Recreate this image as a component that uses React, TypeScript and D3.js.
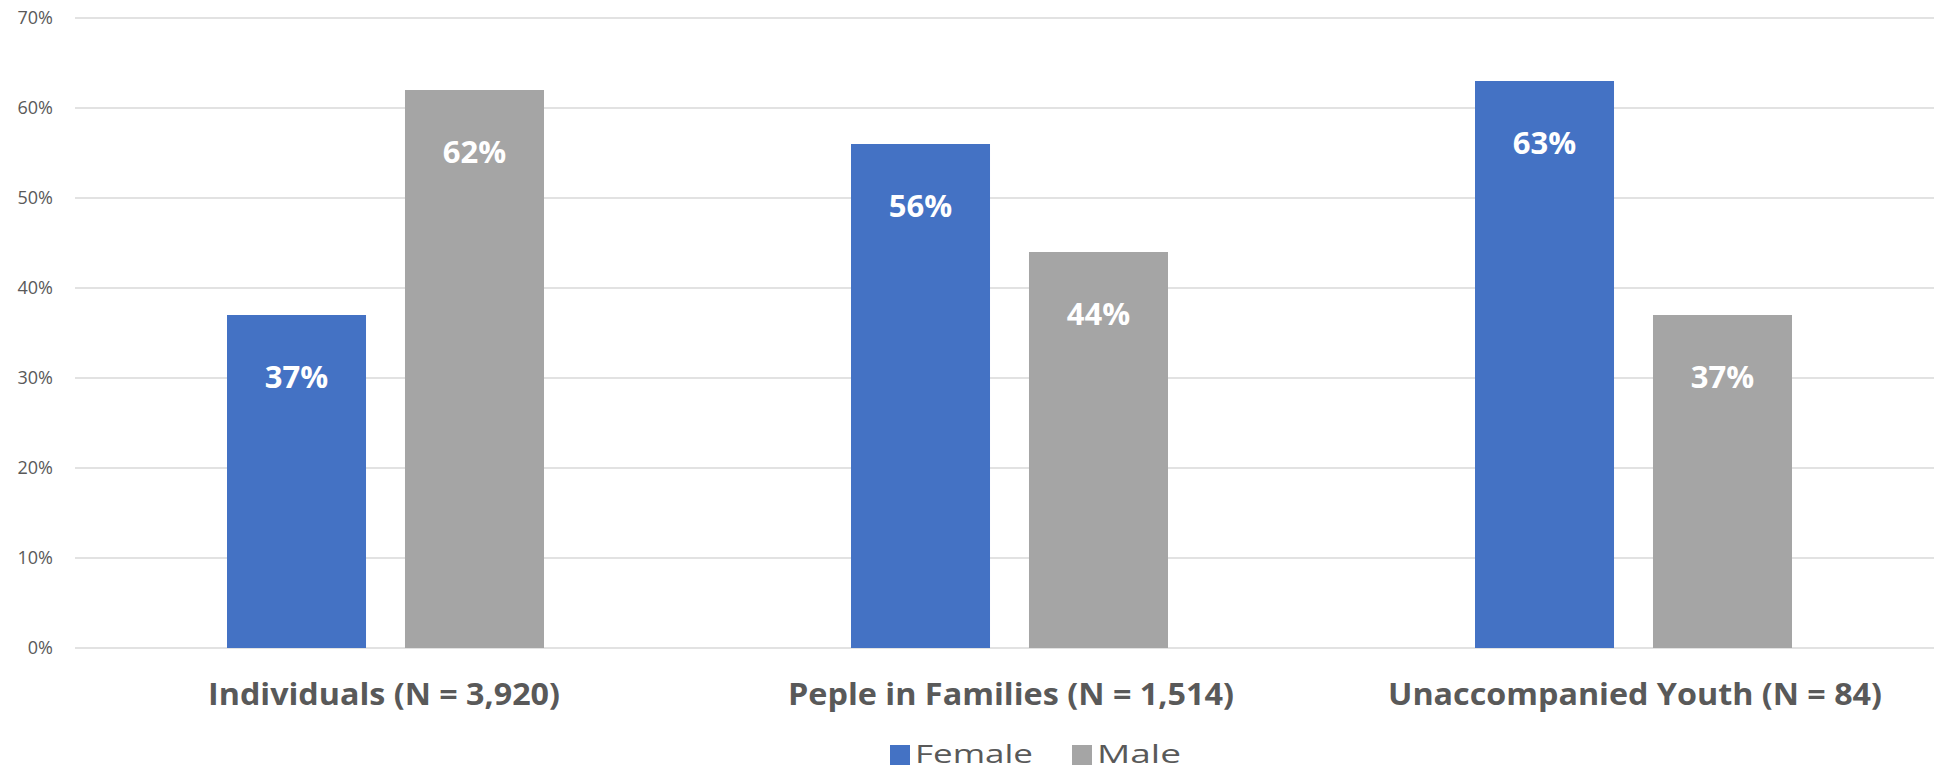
import React from "react";
import * as d3 from "d3";

const categories = [
  "Individuals (N = 3,920)",
  "Peple in Families (N = 1,514)",
  "Unaccompanied Youth (N = 84)",
];
const seriesNames = ["Female", "Male"];
const femaleValues = [0.37, 0.56, 0.63];
const maleValues = [0.62, 0.44, 0.37];
const yTicks = [0, 0.1, 0.2, 0.3, 0.4, 0.5, 0.6, 0.7];

const colors: Record<string, string> = { Female: "#4472C4", Male: "#A5A5A5" };

const W = 1934;
const H = 771;
const plotLeft = 75;
const step = 624;
const plotTop = 18;
const plotBottom = 648;

export default function App() {
  const x = d3
    .scaleBand<string>()
    .domain(categories)
    .range([plotLeft, plotLeft + step * categories.length])
    .paddingInner(0)
    .paddingOuter(0);
  const xInner = d3
    .scaleBand<string>()
    .domain(seriesNames)
    .range([152, 469])
    .paddingInner(0.219)
    .paddingOuter(0);
  const y = d3.scaleLinear().domain([0, 0.7]).range([plotBottom, plotTop]);
  const fmt = d3.format(".0%");

  const seriesValues: Record<string, number[]> = {
    Female: femaleValues,
    Male: maleValues,
  };
  const labelWidths = [352, 446, 494];

  return (
    <svg
      width={W}
      height={H}
      style={{ position: "absolute", left: 0, top: 0, background: "#fff" }}
      fontFamily="'Open Sans', sans-serif"
    >
      <rect x={0} y={0} width={W} height={H} fill="#fff" />
      {yTicks.map((t) => (
        <g key={t}>
          <line
            x1={plotLeft}
            x2={W}
            y1={y(t)}
            y2={y(t)}
            stroke="#D9D9D9"
            strokeWidth={1.5}
          />
          <text
            x={53}
            y={y(t)}
            dy="0.35em"
            textAnchor="end"
            fontSize={18}
            fill="#595959"
          >
            {fmt(t)}
          </text>
        </g>
      ))}
      {categories.map((c, i) => (
        <g key={c} transform={`translate(${x(c)},0)`}>
          {seriesNames.map((s) => {
            const v = seriesValues[s][i];
            const bx = xInner(s)!;
            const bw = xInner.bandwidth();
            return (
              <g key={s}>
                <rect
                  x={bx}
                  y={y(v)}
                  width={bw}
                  height={y(0) - y(v)}
                  fill={colors[s]}
                />
                <text
                  x={bx + bw / 2}
                  y={y(v) + 73}
                  textAnchor="middle"
                  fontSize={31}
                  fontWeight={700}
                  fill="#fff"
                >
                  {fmt(v)}
                </text>
              </g>
            );
          })}
        </g>
      ))}
      {categories.map((c, i) => (
        <text
          key={c}
          x={x(c)! + x.bandwidth() / 2 - (i === 0 ? 3 : 0)}
          y={705}
          textAnchor="middle"
          fontSize={30}
          fontWeight={700}
          fill="#595959"
          textLength={labelWidths[i]}
          lengthAdjust="spacingAndGlyphs"
        >
          {c}
        </text>
      ))}
      {seriesNames.map((s, i) => {
        const lx = i === 0 ? 890 : 1072;
        return (
          <g key={s}>
            <rect x={lx} y={745} width={20} height={20} fill={colors[s]} />
            <text
              x={lx + 25}
              y={763}
              fontSize={26}
              fill="#595959"
              textLength={i === 0 ? 118 : 84}
              lengthAdjust="spacingAndGlyphs"
            >
              {s}
            </text>
          </g>
        );
      })}
    </svg>
  );
}
